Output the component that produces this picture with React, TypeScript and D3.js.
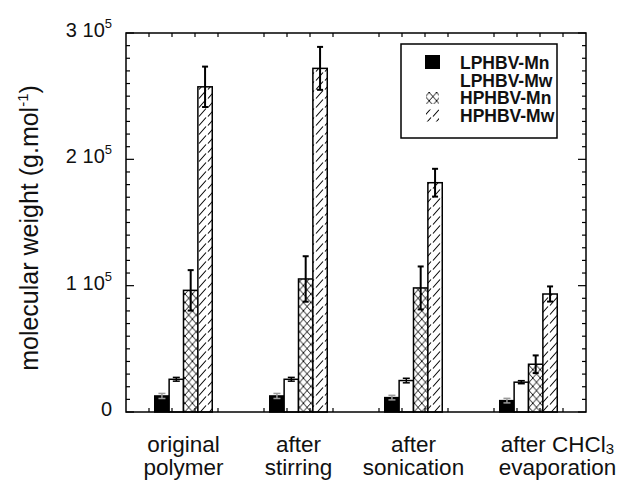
import React from 'react';
import * as d3 from 'd3';

// data (g/mol)
const groupLines = [
  ['original', 'polymer'],
  ['after', 'stirring'],
  ['after', 'sonication'],
  ['after CHCl|3', 'evaporation'],
];
const seriesNames = ['LPHBV-Mn', 'LPHBV-Mw', 'HPHBV-Mn', 'HPHBV-Mw'];
const lphbvMn = [12700, 12700, 11400, 9000];
const lphbvMnErr = [2000, 2000, 1800, 1800];
const lphbvMw = [25900, 25900, 24900, 23600];
const lphbvMwErr = [1500, 1500, 1800, 1200];
const hphbvMn = [96300, 105300, 98200, 37800];
const hphbvMnErr = [16000, 18000, 17000, 7000];
const hphbvMw = [257400, 272000, 181500, 93400];
const hphbvMwErr = [16000, 17000, 11000, 6000];
const yTickMant = ['0', '1 10', '2 10', '3 10'];
const yTickExp = ['', '5', '5', '5'];

const W = 619;
const H = 483;
const font = '"Liberation Sans", Arial, Helvetica, sans-serif';

export default function App() {
  const x = d3.scaleLinear().domain([0.5, 4.5]).range([126, 586]);
  const y = d3.scaleLinear().domain([0, 300000]).range([412, 33]);
  const bw = x(0.125) - x(0);

  const series = [
    { vals: lphbvMn, err: lphbvMnErr, fill: '#000', errColor: '#9a9a9a' },
    { vals: lphbvMw, err: lphbvMwErr, fill: '#fff', errColor: '#000' },
    { vals: hphbvMn, err: hphbvMnErr, fill: 'url(#cross)', errColor: '#000' },
    { vals: hphbvMw, err: hphbvMwErr, fill: 'url(#hatch)', errColor: '#000' },
  ];

  const [x0, x1] = x.range();
  const [yb, yt] = y.range();
  const minor = d3.range(0, 300001, 10000);
  const major = [0, 100000, 200000, 300000];
  const xTicks = d3.range(1, 5).flatMap((g) => [-0.3, -0.1, 0.1, 0.3].map((d) => g + d));
  const labelShift = [0, 0, 0, 29];

  const legendRows = [69, 86.5, 104, 121.5];

  return (
    <svg width={W} height={H} style={{ position: 'absolute', left: 0, top: 0, background: '#fff' }}
      fontFamily={font}>
      <defs>
        <pattern id="cross" patternUnits="userSpaceOnUse" width="7.4" height="8.4">
          <rect width="7.4" height="8.4" fill="#fff" />
          <path d="M0,0L7.4,8.4M0,8.4L7.4,0" stroke="#000" strokeWidth="0.9" />
        </pattern>
        <pattern id="hatch" patternUnits="userSpaceOnUse" width="9" height="9">
          <rect width="9" height="9" fill="#fff" />
          <path d="M1,8.5L8,0.5" stroke="#000" strokeWidth="1.1" />
        </pattern>
      </defs>

      {/* bars */}
      {series.map((s, j) =>
        s.vals.map((v, i) => {
          const left = x(i + 1) + (j - 2) * bw;
          return (
            <rect key={`b${j}-${i}`} x={left} y={y(v)} width={bw} height={yb - y(v)}
              fill={s.fill} stroke="#000" strokeWidth={1.5} />
          );
        })
      )}
      {/* error bars */}
      {series.map((s, j) =>
        s.vals.map((v, i) => {
          const cx = x(i + 1) + (j - 1.5) * bw;
          const hi = y(v + s.err[i]);
          const lo = y(v - s.err[i]);
          const c = j < 2 ? 3.5 : 3;
          return (
            <g key={`e${j}-${i}`} stroke={s.errColor} strokeWidth={j < 2 ? 1.5 : 2}>
              <line x1={cx} x2={cx} y1={hi} y2={lo} />
              <line x1={cx - c} x2={cx + c} y1={hi} y2={hi} />
              <line x1={cx - c} x2={cx + c} y1={lo} y2={lo} />
            </g>
          );
        })
      )}

      {/* frame and ticks */}
      <rect x={x0} y={yt} width={x1 - x0} height={yb - yt} fill="none" stroke="#000" strokeWidth={1.5} />
      {minor.map((t) => {
        const len = major.includes(t) ? 8 : 4;
        return (
          <g key={`yt${t}`} stroke="#000" strokeWidth={1.2}>
            <line x1={x0} x2={x0 + len} y1={y(t)} y2={y(t)} />
            <line x1={x1} x2={x1 - len} y1={y(t)} y2={y(t)} />
          </g>
        );
      })}
      {xTicks.map((t) => (
        <g key={`xt${t}`} stroke="#000" strokeWidth={1.2}>
          <line x1={x(t)} x2={x(t)} y1={yb} y2={yb - 4} />
          <line x1={x(t)} x2={x(t)} y1={yt} y2={yt + 4} />
        </g>
      ))}

      {/* y tick labels */}
      {major.map((t, k) => (
        <text key={`yl${t}`} x={112} y={y(t) + 4} textAnchor="end" fontSize={20} fill="#111">
          {yTickMant[k]}
          {yTickExp[k] && <tspan dy={-9} fontSize={13}>{yTickExp[k]}</tspan>}
        </text>
      ))}

      {/* y title */}
      <text transform="translate(38,228) rotate(-90)" textAnchor="middle" fontSize={25} fill="#111">
        molecular weight (g.mol<tspan dy={-10} fontSize={15}>-1</tspan><tspan dy={10}>)</tspan>
      </text>

      {/* x labels */}
      {groupLines.map((lines, i) => (
        <g key={`xl${i}`} fontSize={22.5} fill="#111" textAnchor="middle">
          {lines.map((ln, r) => {
            const [main, sub] = ln.split('|');
            return (
              <text key={r} x={x(i + 1) + labelShift[i]} y={452 + r * 23}>
                {main}
                {sub && <tspan dy={2} fontSize={15}>{sub}</tspan>}
              </text>
            );
          })}
        </g>
      ))}

      {/* legend */}
      <rect x={401} y={44} width={156} height={94} fill="#fff" stroke="#000" strokeWidth={1.5} />
      <rect x={425} y={legendRows[0] - 14} width={15} height={14} fill="#000" />
      <rect x={426} y={legendRows[2] - 12} width={13} height={12} fill="url(#cross)" />
      <rect x={426} y={legendRows[3] - 12} width={13} height={12} fill="url(#hatch)" />
      {seriesNames.map((n, k) => (
        <text key={n} x={460} y={legendRows[k]} fontSize={17.5} fontWeight="bold" fill="#111">{n}</text>
      ))}
    </svg>
  );
}
